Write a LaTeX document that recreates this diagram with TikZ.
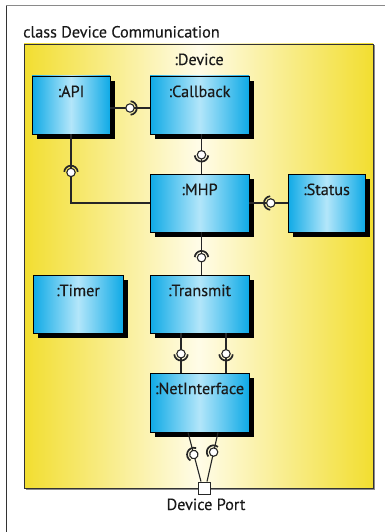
\documentclass[tikz,border=0pt]{standalone}
\usepackage{fontspec}
\setmainfont{PT Sans}
\newfontfamily\lblfont{PT Sans}[FakeBold=0.25]
\usetikzlibrary{shadows,calc}
\definecolor{bluedge}{HTML}{0FAAE6}
\definecolor{bluemid}{HTML}{B3E6FA}
\definecolor{yeledge}{HTML}{F2DE30}
\definecolor{yelmid}{HTML}{FFFCE8}
\definecolor{framegray}{HTML}{8A8A8A}
\tikzset{
  comp/.style={draw=black, line width=0.9pt, left color=bluedge, right color=bluedge, middle color=bluemid,
    minimum width=99pt, minimum height=58pt, inner sep=0pt,
    drop shadow={shadow xshift=5pt, shadow yshift=-5pt, fill=black, opacity=1}},
  lbl/.style={font=\lblfont\fontsize{16.2}{19}\selectfont, anchor=base, inner sep=0pt, text=black!90},
  conn/.style={line width=1.1pt, black!85},
  lolli/.pic={
    \draw[line width=1.7pt, black!85] (-85:6.8pt) arc[start angle=-85, end angle=85, radius=6.8pt];
    \draw[line width=1.1pt, black!85, fill=white] (0,0) circle[radius=4.2pt];
  }
}
\begin{document}
\begin{tikzpicture}[x=1pt,y=1pt]
\useasboundingbox (0,0) rectangle (385,-532);
% outer frame
\draw[framegray, line width=1pt] (6,-6) -- (385,-6);
\draw[black!80, line width=1pt] (6,-6) -- (6,-532);
\node[lbl, anchor=base west] (title) at (23,-37.5) {class Device Communication};
% device container
\fill[black!45] (25.5,-45.5) rectangle (374.5,-489.5);
\node[draw=black!80, line width=0.9pt, left color=yeledge, right color=yeledge, middle color=yelmid,
  minimum width=349pt, minimum height=444pt, inner sep=0pt] (device) at (198.5,-266) {};
\node[lbl] (devicelbl) at (199,-65) {:Device};
% components
\node[comp, minimum width=78pt] (api) at (71,-105) {};
\node[comp] (callback) at (199.5,-105) {};
\node[comp] (mhp) at (199.5,-203) {};
\node[comp, minimum width=77pt] (status) at (326.5,-203) {};
\node[comp, minimum width=90pt] (timer) at (78,-304) {};
\node[comp] (transmit) at (199.5,-304) {};
\node[comp, minimum height=59pt] (netif) at (199.5,-402.5) {};
\foreach \n/\t in {api/:API, callback/:Callback, mhp/:MHP, status/:Status, timer/:Timer, transmit/:Transmit, netif/:NetInterface}{
  \node[lbl] (\n lbl) at ($(\n.north)+(0,-21.5)$) {\t};
}
% port
\node[draw=black!85, line width=0.9pt, fill=white, minimum size=12pt, inner sep=0pt] (port) at (204,-488) {};
\node[lbl] (portlbl) at (206,-510) {Device Port};
% connectors
\draw[conn] ([yshift=-3pt]api.east) -- coordinate[pos=0.5] (b1) ([yshift=-3pt]callback.west);
\draw[conn] ([xshift=2pt]callback.south) -- coordinate[pos=0.52] (b2) ([xshift=2pt]mhp.north);
\draw[conn] (api.south) |- (mhp.west);
\coordinate (b3) at ($(api.south)+(0,-38)$);
\draw[conn] (mhp.east) -- coordinate[pos=0.56] (b4) (status.west);
\draw[conn] ([xshift=2pt]mhp.south) -- coordinate[pos=0.6] (b5) ([xshift=2pt]transmit.north);
\draw[conn] ([xshift=-18.5pt]transmit.south) -- coordinate[pos=0.52] (b6) ([xshift=-18.5pt]netif.north);
\draw[conn] ([xshift=26.5pt]transmit.south) -- coordinate[pos=0.52] (b7) ([xshift=26.5pt]netif.north);
\draw[conn] ([xshift=-11.5pt]netif.south) -- coordinate[pos=0.45] (b8) ([xshift=-3pt]port.north);
\draw[conn] ([xshift=18.5pt]netif.south) -- coordinate[pos=0.4] (b9) ([xshift=3pt]port.north);
\pic[rotate=0] at (b1) {lolli};
\pic[rotate=-90] at (b2) {lolli};
\pic[rotate=90] at (b3) {lolli};
\pic[rotate=180] at (b4) {lolli};
\pic[rotate=90] at (b5) {lolli};
\pic[rotate=-90] at (b6) {lolli};
\pic[rotate=-90] at (b7) {lolli};
\pic[rotate=155] at (b8) {lolli};
\pic[rotate=135] at (b9) {lolli};
\end{tikzpicture}
\end{document}
